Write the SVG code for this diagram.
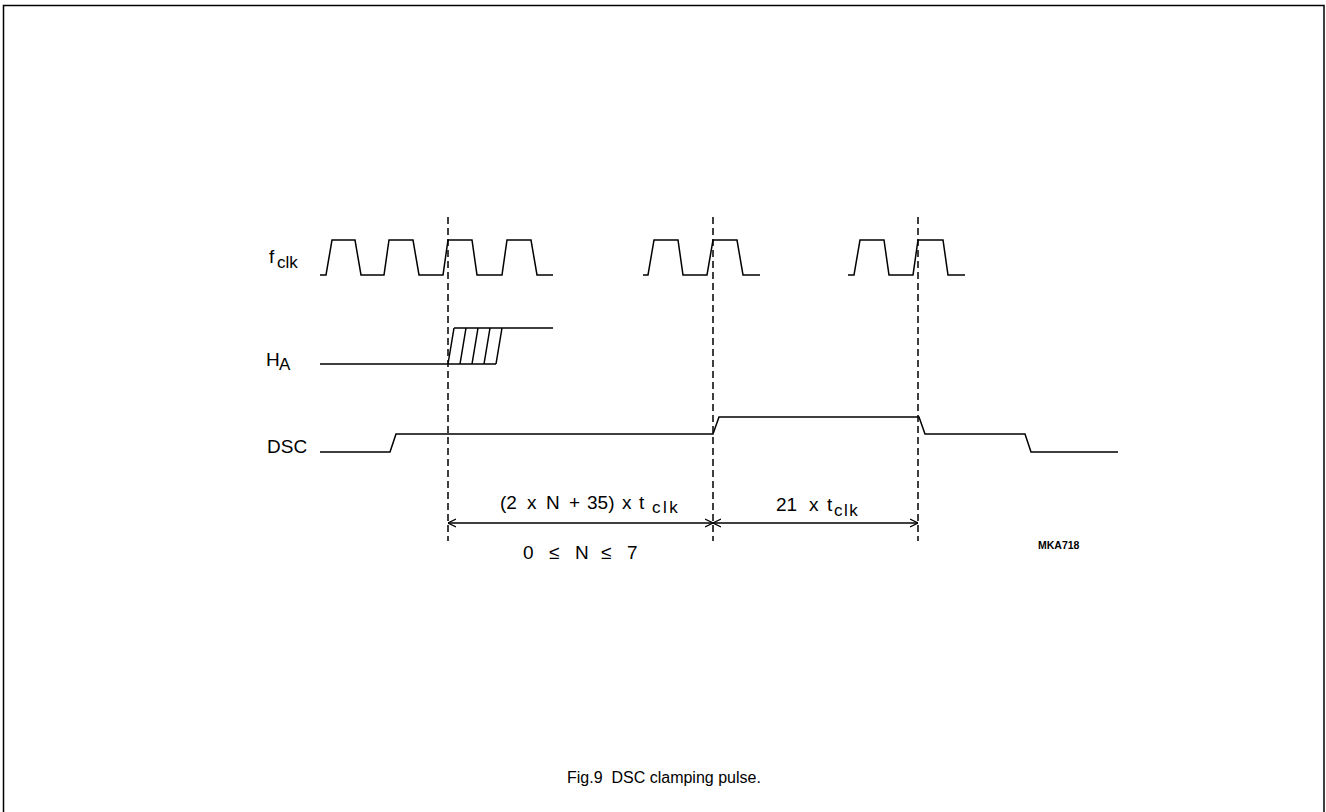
<svg xmlns="http://www.w3.org/2000/svg" width="1326" height="812" viewBox="0 0 1326 812">
<style>
.w{fill:none;stroke:#000;stroke-width:1.5;stroke-linejoin:miter}
.d{fill:none;stroke:#000;stroke-width:1.5;stroke-dasharray:7 4}
.t{font-family:"Liberation Sans",Arial,sans-serif;font-size:19px;fill:#000}
.s{font-size:17px}
.dim{fill:none;stroke:#000;stroke-width:1.3}
</style>
<defs>
<marker id="ar" viewBox="0 0 10 10" refX="10" refY="5" markerWidth="8" markerHeight="10" markerUnits="userSpaceOnUse" orient="auto-start-reverse">
<path d="M0,0 L10,5 L0,10" fill="none" stroke="#000" stroke-width="1.4"/>
</marker>
</defs>
<rect width="1326" height="812" fill="#fff"/>
<g id="frame"><path d="M3.5,812 V5.5 H1324 V812" fill="none" stroke="#000" stroke-width="1.5"/></g>
<g id="fclk">
<text class="t" x="269" y="263" font-size="18px">f<tspan class="s" x="277" y="268" font-size="16px">clk</tspan></text>
<polyline class="w" points="320,275 326,275 332,240 355,240 361,275 384,275 389,240 413,240 419,275 443,275 448,240 472,240 477,275 502,275 507,240 531,240 537,275 553,275"/>
<polyline class="w" points="643,275 648,275 654,240 678,240 683,275 707,275 713,240 737,240 743,275 760,275"/>
<polyline class="w" points="848,275 854,275 860,240 884,240 889,275 913,275 918,240 943,240 948,275 965,275"/>
</g>
<g id="ha">
<text class="t" x="266" y="366" font-size="18px">H<tspan class="s" x="279" y="370" font-size="16px">A</tspan></text>
<path class="w" d="M320,364 H496 M454,328 H553 M448,364 L454,328 M460,364 L466,328 M472,364 L478,328 M484,364 L490,328 M496,364 L502,328"/>
</g>
<g id="dsc">
<text class="t" x="267" y="453" font-size="18px">DSC</text>
<polyline class="w" points="320,452 390,452 396,434 713,434 719,417 919,417 925,434 1025,434 1031,452 1118,452"/>
</g>
<g id="connectors">
<line class="d" x1="448" y1="217" x2="448" y2="541"/>
<line class="d" x1="713" y1="217" x2="713" y2="541"/>
<line class="d" x1="918" y1="217" x2="918" y2="541"/>
<line class="dim" x1="448" y1="523" x2="713" y2="523" marker-start="url(#ar)" marker-end="url(#ar)"/>
<line class="dim" x1="713" y1="523" x2="918" y2="523" marker-start="url(#ar)" marker-end="url(#ar)"/>
</g>
<g id="labels">
<text class="t" y="509"><tspan x="500">(2</tspan><tspan x="527">x</tspan><tspan x="546">N</tspan><tspan x="569">+</tspan><tspan x="587">35)</tspan><tspan x="622">x</tspan><tspan x="639">t</tspan><tspan class="s" x="652" y="513" letter-spacing="2.5">clk</tspan></text>
<text class="t" y="511"><tspan x="776">21</tspan><tspan x="809">x</tspan><tspan x="827">t</tspan><tspan class="s" x="834" y="516" letter-spacing="1.5">clk</tspan></text>
<text class="t" y="559"><tspan x="523">0</tspan><tspan x="549">≤</tspan><tspan x="575">N</tspan><tspan x="601">≤</tspan><tspan x="627">7</tspan></text>
<text x="1038" y="549" font-family="'Liberation Sans',Arial,sans-serif" font-size="10.5px" font-weight="bold">MKA718</text>
<text x="567" y="783" font-family="'Liberation Sans',Arial,sans-serif" font-size="16px" xml:space="preserve">Fig.9  DSC clamping pulse.</text>
</g>
</svg>
